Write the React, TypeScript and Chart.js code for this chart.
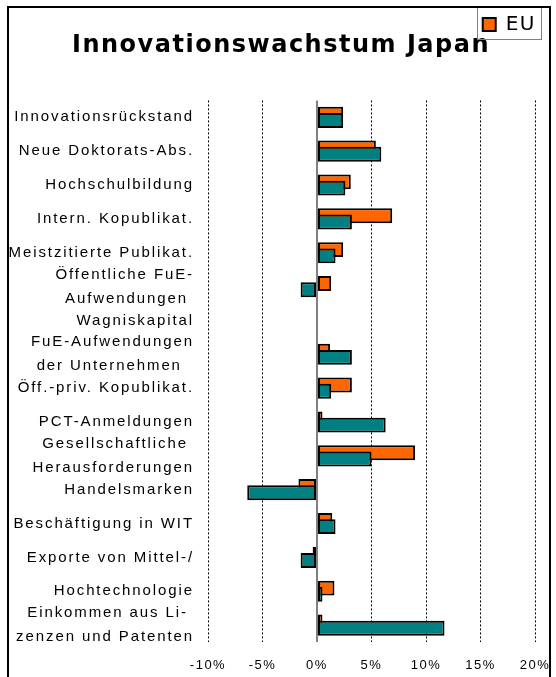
import React, { useEffect, useRef } from 'react';
import { Chart, registerables } from 'chart.js';

Chart.register(...registerables);

const chartTitle = 'Innovationswachstum Japan';

const categories: (string | string[])[] = [
  'Innovationsrückstand',
  'Neue Doktorats-Abs.',
  'Hochschulbildung',
  'Intern. Kopublikat.',
  'Meistzitierte Publikat.',
  ['Öffentliche FuE-', 'Aufwendungen '],
  'Wagniskapital',
  ['FuE-Aufwendungen', 'der Unternehmen  '],
  'Öff.-priv. Kopublikat.',
  'PCT-Anmeldungen',
  ['Gesellschaftliche ', 'Herausforderungen'],
  'Handelsmarken',
  'Beschäftigung in WIT',
  'Exporte von Mittel-/',
  'Hochtechnologie',
  ['Einkommen aus Li- ', 'zenzen und Patenten'],
];

const seriesNames = ['Japan', 'EU'];

const japanValues: (number | null)[] = [2.4, 5.9, 2.6, 3.2, 1.7, -1.5, null, 3.2, 1.3, 6.3, 5.0, -6.4, 1.7, -1.5, 0.5, 11.7];
const euValues: (number | null)[] = [2.4, 5.4, 3.1, 6.9, 2.4, 1.3, null, 1.2, 3.2, 0.5, 9.0, -1.7, 1.4, -0.4, 1.6, 0.5];

const xMin = -10;
const xMax = 20;
const xStep = 5;

export default function App() {
  const ref = useRef<HTMLCanvasElement>(null);

  useEffect(() => {
    const canvas = ref.current;
    if (!canvas) return;

    const spacingPlugin = {
      id: 'spacing',
      beforeDraw(chart: any) {
        chart.ctx.letterSpacing = '1.5px';
      },
      afterDatasetsDraw(chart: any) {
        chart.ctx.letterSpacing = '1.9px';
      },
      afterDraw(chart: any) {
        chart.ctx.letterSpacing = '0px';
      },
    };

    const legendBoxPlugin = {
      id: 'legendBox',
      afterDraw(chart: any) {
        const lg = chart.legend;
        if (!lg || !lg.legendHitBoxes || !lg.legendHitBoxes.length) return;
        const hb = lg.legendHitBoxes[0];
        const ctx = chart.ctx;
        const left = Math.round(hb.left - 6) + 0.5;
        const top = Math.round(hb.top - 8) + 0.5;
        const right = Math.round(hb.left + hb.width + 8) + 0.5;
        ctx.save();
        ctx.strokeStyle = '#7f7f7f';
        ctx.lineWidth = 1;
        ctx.strokeRect(left, top, right - left, 32);
        ctx.restore();
      },
    };

    const framePlugin = {
      id: 'frame',
      afterDraw(chart: any) {
        const ctx = chart.ctx;
        ctx.save();
        ctx.strokeStyle = '#000';
        ctx.lineWidth = 2;
        ctx.strokeRect(8, 7, 542, 700);
        ctx.restore();
      },
    };

    const hiddenAxis = (width: number, position: string, weight: number) => ({
      type: 'linear',
      position,
      weight,
      display: true,
      grid: { display: false, drawTicks: false },
      border: { display: false },
      ticks: { display: false },
      afterFit: (s: any) => {
        s.width = width;
      },
    });

    const chart = new Chart(canvas, {
      type: 'bar',
      data: {
        labels: categories,
        datasets: [
          {
            label: seriesNames[0],
            data: japanValues,
            backgroundColor: '#008080',
            borderColor: '#000000',
            borderWidth: 2,
            borderSkipped: false,
          },
          {
            label: seriesNames[1],
            data: euValues,
            backgroundColor: '#FF6600',
            borderColor: '#000000',
            borderWidth: 2,
            borderSkipped: false,
          },
        ],
      },
      options: {
        indexAxis: 'y',
        responsive: false,
        animation: false,
        // negative percentages reverse the group order so that the
        // front-most dataset sits lower, giving the Excel-style overlap
        categoryPercentage: -0.37,
        barPercentage: -2.38,
        layout: { padding: { left: 8, right: 2, top: -6.5, bottom: 0 } },
        plugins: {
          legend: {
            display: true,
            position: 'top',
            align: 'end',
            weight: 3000,
            labels: {
              font: { family: 'DejaVu Sans', size: 20 },
              color: '#000',
              boxWidth: 13,
              boxHeight: 13,
              padding: 21,
              filter: (item: any) => item.datasetIndex === 1,
            },
          },
          title: {
            display: true,
            text: chartTitle,
            color: '#000',
            font: { family: 'DejaVu Sans', size: 24, weight: 'bold', lineHeight: 1.2 },
            padding: { top: -13.2, bottom: 40.3 },
          },
          tooltip: { enabled: false },
        },
        scales: {
          x: {
            type: 'linear',
            position: 'bottom',
            min: xMin,
            max: xMax,
            ticks: {
              stepSize: xStep,
              callback: (v: any) => `${v}%`,
              color: '#000',
              font: { family: 'Liberation Sans', size: 13, lineHeight: 2.5 },
              padding: 7,
              z: 0,
            },
            grid: {
              drawTicks: false,
              color: (c: any) => (c.tick && c.tick.value === 0 ? '#808080' : '#000'),
              lineWidth: (c: any) => (c.tick && c.tick.value === 0 ? 2 : 1),
            },
            border: {
              display: false,
              dash: (c: any) => (c.tick && c.tick.value === 0 ? [] : [2, 2]),
            },
            afterFit: (s: any) => {
              s.height = 35;
            },
          },
          y: {
            type: 'category',
            position: 'left',
            weight: 1,
            grid: { display: false, drawTicks: false },
            border: { display: false },
            ticks: {
              autoSkip: false,
              color: '#000',
              font: { family: 'Liberation Sans', size: 15, lineHeight: 1.6 },
              padding: 0,
              z: 1,
            },
            afterFit: (s: any) => {
              s.width = 186;
            },
          },
          yL: hiddenAxis(14, 'left', 0),
          yR: hiddenAxis(19, 'right', 0),
        },
      } as any,
      plugins: [spacingPlugin, legendBoxPlugin, framePlugin],
    });

    return () => chart.destroy();
  }, []);

  return (
    <div style={{ position: 'fixed', left: 0, top: 0, width: 556, height: 677, background: '#fff' }}>
      <canvas ref={ref} width={556} height={677} style={{ display: 'block' }} />
    </div>
  );
}
